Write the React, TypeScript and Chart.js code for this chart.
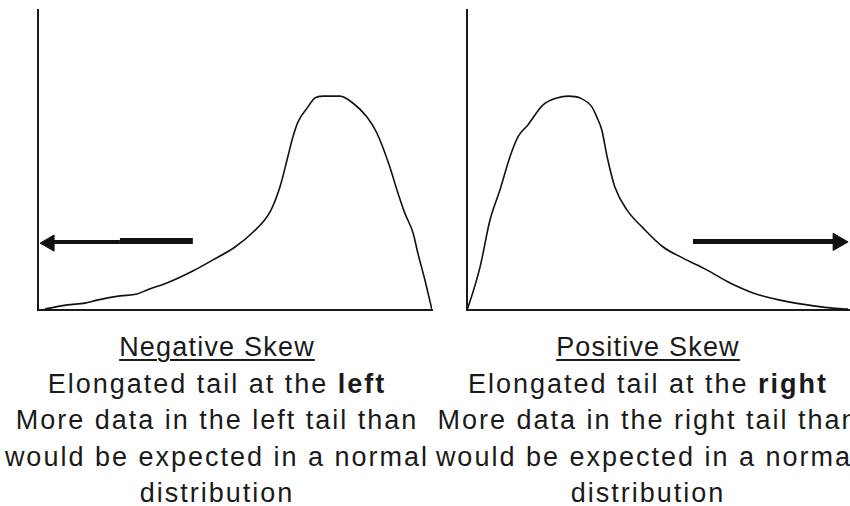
import React, { useEffect, useRef } from "react";
import { Chart, registerables } from "chart.js";

Chart.register(...registerables);

// ---- Negative skew panel (left) ----
const negCurveX = [1.8, 7.4, 11.9, 15.0, 20.8, 25.1, 27.7, 32.7, 39.3, 44.4, 50.0, 54.6, 58.9, 61.4, 63.2, 64.7, 66.0, 68.3, 70.3, 72.3, 76.6, 79.9, 83.5, 86.0, 89.3, 91.1, 93.1, 95.2, 96.4, 98.2, 100];
const negCurveY = [0.3, 1.7, 2.3, 3.3, 4.7, 5.3, 6.7, 9.0, 13.0, 16.7, 21.0, 26.0, 32.7, 41.0, 50.0, 57.7, 62.7, 67.3, 70.7, 71.3, 71.3, 69.0, 64.3, 59.0, 47.7, 40.0, 32.3, 25.7, 19.0, 10.0, 0];
const negArrowThinX = [2.9, 20.8];
const negArrowThinY = [22.7, 22.7];
const negArrowThickX = [20.8, 39.3];
const negArrowThickY = [23.0, 23.0];
const negArrowHead = { x: 2.9, y: 22.3 };

// ---- Positive skew panel (right) ----
const posCurveX = [0, 0.3, 3.4, 6.0, 8.6, 11.2, 13.3, 15.9, 19.8, 23.5, 26.4, 29.5, 32.6, 33.9, 35.2, 36.6, 38.6, 41.8, 46.0, 51.2, 56.4, 62.7, 68.7, 74.7, 81.7, 88.8, 94.8, 99.5];
const posCurveY = [0, 1.0, 14.3, 30.0, 40.0, 51.0, 57.7, 61.7, 68.3, 70.7, 71.3, 70.7, 67.7, 64.3, 60.0, 51.0, 41.0, 33.3, 27.3, 21.0, 17.3, 13.3, 9.0, 5.7, 3.3, 1.7, 0.7, 0.3];
const posArrowX = [59.0, 96.9];
const posArrowY = [22.8, 22.8];
const posArrowHead = { x: 96.9, y: 22.7 };

// ---- Captions ----
const negCaption = ["Negative Skew", "Elongated tail at the ", "left", "More data in the left tail than", "would be expected in a normal", "distribution"];
const posCaption = ["Positive Skew", "Elongated tail at the ", "right", "More data in the right tail than", "would be expected in a normal", "distribution"];

const INK = "#111";

const pts = (xs: number[], ys: number[]) => xs.map((x, i) => ({ x, y: ys[i] }));

function lineSet(data: any[], width: number, extra: any = {}) {
  return {
    data,
    borderColor: INK,
    backgroundColor: INK,
    borderWidth: width,
    pointRadius: 0,
    fill: false,
    ...extra,
  };
}

function headSet(p: { x: number; y: number }, radius: number, rotation: number) {
  return {
    data: [p],
    showLine: false,
    pointStyle: "triangle",
    pointRadius: radius,
    pointRotation: rotation,
    pointBackgroundColor: INK,
    pointBorderColor: INK,
    pointBorderWidth: 1,
  };
}

function axis() {
  return {
    type: "linear",
    min: 0,
    max: 100,
    display: true,
    grid: { display: false, drawTicks: false },
    ticks: { display: false },
    border: { display: true, color: "#1a1a1a", width: 2 },
  };
}

function makeConfig(datasets: any[], padding: any) {
  return {
    type: "line",
    data: { datasets },
    options: {
      animation: false,
      responsive: false,
      events: [],
      devicePixelRatio: 1,
      layout: { padding, autoPadding: false },
      elements: { line: { tension: 0 } },
      plugins: { legend: { display: false }, tooltip: { enabled: false } },
      scales: { x: axis(), y: axis() },
    },
  };
}

function Panel({ cfg, left, width, height }: { cfg: any; left: number; width: number; height: number }) {
  const ref = useRef<HTMLCanvasElement | null>(null);
  useEffect(() => {
    if (!ref.current) return;
    const chart = new Chart(ref.current, cfg);
    return () => chart.destroy();
  }, []);
  return (
    <canvas
      ref={ref}
      width={width}
      height={height}
      style={{ position: "absolute", left, top: 0, width, height }}
    />
  );
}

function Caption({ lines, center }: { lines: string[]; center: number }) {
  const w = 560;
  return (
    <div
      style={{
        position: "absolute",
        left: center - w / 2,
        top: 329.4,
        width: w,
        textAlign: "center",
        whiteSpace: "nowrap",
        fontFamily: '"Liberation Sans", Arial, sans-serif',
        fontSize: 27,
        letterSpacing: "2px",
        lineHeight: "36.5px",
        color: "#1a1a1a",
      }}
    >
      <div style={{ letterSpacing: "1.2px" }}>
        <span style={{ textDecoration: "underline", textDecorationThickness: "1.5px", textUnderlineOffset: "3px" }}>{lines[0]}</span>
      </div>
      <div>
        {lines[1]}
        <b>{lines[2]}</b>
      </div>
      <div>{lines[3]}</div>
      <div>{lines[4]}</div>
      <div>{lines[5]}</div>
    </div>
  );
}

export default function App() {
  const negCfg = makeConfig(
    [
      lineSet(pts(negCurveX, negCurveY), 1.6, { cubicInterpolationMode: "monotone" }),
      lineSet(pts(negArrowThinX, negArrowThinY), 4),
      lineSet(pts(negArrowThickX, negArrowThickY), 6),
      headSet(negArrowHead, 9.3, 270),
    ],
    { left: 38, top: 10, right: 8, bottom: 10 }
  );
  const posCfg = makeConfig(
    [
      lineSet(pts(posCurveX, posCurveY), 1.6, { cubicInterpolationMode: "monotone" }),
      lineSet(pts(posArrowX, posArrowY), 5),
      headSet(posArrowHead, 10, 90),
    ],
    { left: 27, top: 10, right: 0, bottom: 10 }
  );
  return (
    <div style={{ position: "absolute", left: 0, top: 0, width: 850, height: 506, overflow: "hidden", background: "#fff" }}>
      <Panel cfg={negCfg} left={0} width={440} height={320} />
      <Panel cfg={posCfg} left={440} width={410} height={320} />
      <Caption lines={negCaption} center={217} />
      <Caption lines={posCaption} center={648} />
    </div>
  );
}
